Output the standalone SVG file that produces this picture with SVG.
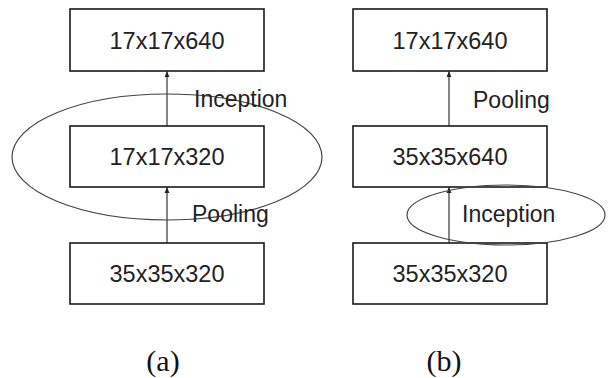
<svg xmlns="http://www.w3.org/2000/svg" width="609" height="378" viewBox="0 0 609 378">
<style>
.box{fill:#fff;stroke:#1a1a1a;stroke-width:1.6}
.t{font-family:"Liberation Sans",Arial,sans-serif;font-size:23.5px;fill:#222;text-anchor:middle}
.l{font-family:"Liberation Sans",Arial,sans-serif;font-size:23px;fill:#222}
.cap{font-family:"Liberation Serif","Times New Roman",serif;font-size:30px;fill:#111;text-anchor:middle}
.ell{fill:none;stroke:#444;stroke-width:1.2}
.c{stroke:#222;stroke-width:1.1;fill:none;marker-end:url(#ah)}
</style>
<defs>
<marker id="ah" viewBox="0 0 10 10" refX="10" refY="5" markerWidth="6" markerHeight="6" markerUnits="userSpaceOnUse" orient="auto">
<path d="M0,1 L10,5 L0,9 Z" fill="#222"/>
</marker>
</defs>
<g id="nodes-a">
<g id="a-top"><rect class="box" x="70" y="9" width="194" height="62"/><text class="t" x="167" y="49">17x17x640</text></g>
<g id="a-mid"><rect class="box" x="70" y="126" width="194" height="61"/><text class="t" x="167" y="165">17x17x320</text></g>
<g id="a-bot"><rect class="box" x="70" y="243" width="194" height="61"/><text class="t" x="167" y="282">35x35x320</text></g>
</g>
<g id="nodes-b">
<g id="b-top"><rect class="box" x="353" y="9" width="194" height="62"/><text class="t" x="450" y="49">17x17x640</text></g>
<g id="b-mid"><rect class="box" x="353" y="126" width="194" height="61"/><text class="t" x="450" y="165">35x35x640</text></g>
<g id="b-bot"><rect class="box" x="353" y="243" width="194" height="61"/><text class="t" x="450" y="282">35x35x320</text></g>
</g>
<g id="connectors">
<line class="c" x1="167" y1="243" x2="167" y2="187"/>
<line class="c" x1="167" y1="126" x2="167" y2="71"/>
<line class="c" x1="449" y1="243" x2="449" y2="187"/>
<line class="c" x1="449" y1="126" x2="449" y2="71"/>
</g>
<g id="ellipses">
<ellipse class="ell" cx="167" cy="157" rx="155" ry="63"/>
<ellipse class="ell" cx="506" cy="215" rx="99" ry="30"/>
</g>
<g id="labels">
<text class="l" x="194" y="107">Inception</text>
<text class="l" x="192" y="222">Pooling</text>
<text class="l" x="473" y="108">Pooling</text>
<text class="l" x="462" y="222">Inception</text>
<text class="cap" x="163" y="371">(a)</text>
<text class="cap" x="444" y="371">(b)</text>
</g>
</svg>
